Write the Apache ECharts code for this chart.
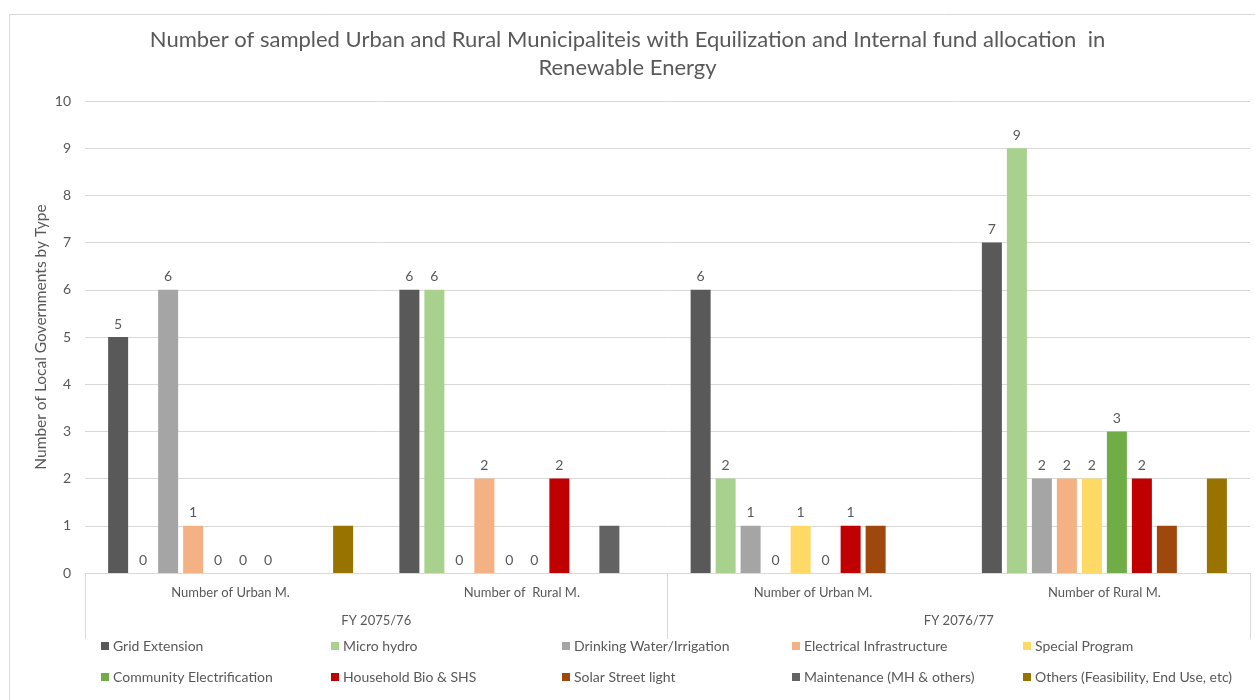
<!DOCTYPE html>
<html>
<head>
<meta charset="utf-8">
<script src="https://cdn.jsdelivr.net/npm/echarts@6/dist/echarts.min.js"></script>
<style>html,body{margin:0;padding:0;background:#fff;}#c{width:1255px;height:700px;}</style>
</head>
<body>
<div id="c"></div>
<script>
const categories = ['Number of Urban M.', 'Number of  Rural M.', 'Number of Urban M.', 'Number of Rural M.'];
const fiscalYears = ['FY 2075/76', 'FY 2076/77'];
const yTicks = [0, 1, 2, 3, 4, 5, 6, 7, 8, 9, 10];
const yAxisTitle = 'Number of Local Governments by Type';

const gridExtension = [5, 6, 6, 7];
const microHydro = [0, 6, 2, 9];
const drinkingWater = [6, 0, 1, 2];
const electricalInfra = [1, 2, 0, 2];
const specialProgram = [0, 0, 1, 2];
const communityElec = [0, 0, 0, 3];
const householdBio = [0, 2, 1, 2];
const solarStreet = [null, null, 1, 1];
const maintenance = [null, 1, null, null];
const others = [1, null, null, 2];

const seriesNames = ['Grid Extension', 'Micro hydro', 'Drinking Water/Irrigation', 'Electrical Infrastructure', 'Special Program',
  'Community Electrification', 'Household Bio & SHS', 'Solar Street light', 'Maintenance (MH & others)', 'Others (Feasibility, End Use, etc)'];
const seriesData = [gridExtension, microHydro, drinkingWater, electricalInfra, specialProgram, communityElec, householdBio, solarStreet, maintenance, others];
const colors = ['#595959', '#A9D18E', '#A5A5A5', '#F4B183', '#FFD966', '#70AD47', '#C00000', '#9E480E', '#636363', '#997300'];
const showLabel = [true, true, true, true, true, true, true, false, false, false];

const font = 'Lato, "Open Sans", sans-serif';
const txt = '#595959';

const series = seriesNames.map((n, i) => ({
  name: n,
  type: 'bar',
  data: seriesData[i],
  barWidth: 20,
  barGap: '25%',
  itemStyle: { color: colors[i] },
  label: { show: showLabel[i], position: 'top', distance: 6, color: txt, fontSize: 14, fontFamily: font },
  emphasis: { disabled: true }
}));

const legendCols = [101, 331, 562, 792, 1023];
const legendRows = [639, 670];
const legends = seriesNames.map((n, i) => ({
  data: [n], left: legendCols[i % 5], top: legendRows[Math.floor(i / 5)],
  itemWidth: 8, itemHeight: 8, itemGap: 0, icon: 'rect', padding: 0,
  textStyle: { fontFamily: font, fontSize: 14, color: txt, padding: [0, 0, 0, -1] }
}));

const chart = echarts.init(document.getElementById('c'));
chart.setOption({
  animation: false,
  color: colors,
  title: {
    text: 'Number of sampled Urban and Rural Municipaliteis with Equilization and Internal fund allocation  in\nRenewable Energy',
    left: 'center', top: 21,
    textStyle: { fontFamily: font, fontSize: 22, fontWeight: 'normal', color: txt, lineHeight: 28 }
  },
  graphic: [
    { type: 'rect', left: 7, top: 12, shape: { width: 1270, height: 710 },
      style: { fill: 'none', stroke: '#D9D9D9', lineWidth: 1 }, silent: true },
    { type: 'text', x: 41, y: 337, rotation: Math.PI / 2, silent: true,
      style: { text: yAxisTitle, fill: txt, font: '15.5px ' + font, align: 'center', verticalAlign: 'middle' } }
  ],
  legend: legends,
  grid: { left: 85, right: 5, top: 101, bottom: 127, containLabel: false },
  xAxis: [
    { type: 'category', data: categories, position: 'bottom',
      axisLine: { show: true, lineStyle: { color: '#D9D9D9' } },
      axisTick: { show: false },
      axisLabel: { color: txt, fontSize: 13, fontFamily: font, margin: 13, interval: 0 } },
    { type: 'category', data: fiscalYears, position: 'bottom', offset: 0,
      axisLine: { show: false },
      axisTick: { show: true, length: 66, lineStyle: { color: '#D9D9D9' } },
      axisLabel: { color: txt, fontSize: 13, fontFamily: font, margin: 41, interval: 0 } }
  ],
  yAxis: {
    type: 'value', min: 0, max: 10, interval: 1,
    axisLine: { show: false }, axisTick: { show: false },
    axisLabel: { color: txt, fontSize: 14, fontFamily: font, margin: 14,
      formatter: v => yTicks.includes(v) ? String(v) : '' },
    splitLine: { lineStyle: { color: '#D9D9D9' } }
  },
  series: series
});
</script>
</body>
</html>
